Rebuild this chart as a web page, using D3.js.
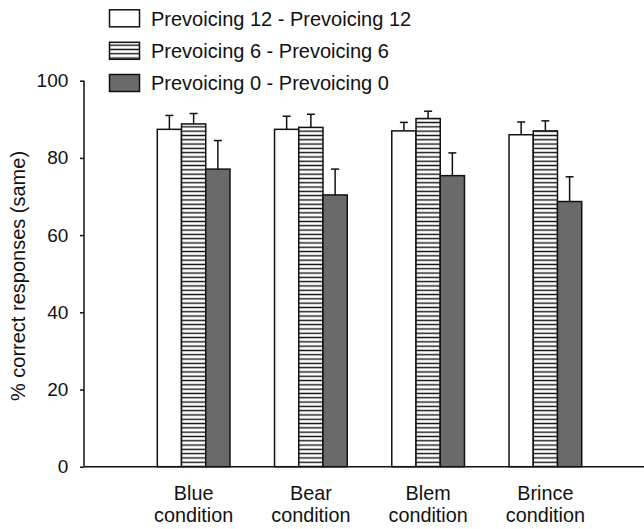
<!DOCTYPE html>
<html>
<head>
<meta charset="utf-8">
<script src="https://cdn.jsdelivr.net/npm/d3@7"></script>
<style>
  html, body { margin: 0; padding: 0; background: #fff; }
  svg { display: block; font-family: "Liberation Sans", Arial, sans-serif; }
</style>
</head>
<body>
<svg id="chart" width="644" height="529"></svg>
<script>
const categories = ["Blue condition", "Bear condition", "Blem condition", "Brince condition"];
const seriesNames = ["Prevoicing 12 - Prevoicing 12", "Prevoicing 6 - Prevoicing 6", "Prevoicing 0 - Prevoicing 0"];
const means12 = [87.4, 87.4, 87.0, 86.0];
const means6  = [88.8, 87.9, 90.2, 87.0];
const means0  = [77.1, 70.4, 75.4, 68.7];
const errs12 = [3.6, 3.4, 2.2, 3.3];
const errs6  = [2.7, 3.4, 1.9, 2.6];
const errs0  = [7.4, 6.7, 5.9, 6.4];
const yTicks = [0, 20, 40, 60, 80, 100];

const meansList = [means12, means6, means0];
const errsList = [errs12, errs6, errs0];

const svg = d3.select("#chart");

// pattern for hatched bars
const defs = svg.append("defs");
const pat = defs.append("pattern")
  .attr("id", "hatch")
  .attr("patternUnits", "userSpaceOnUse")
  .attr("width", 8).attr("height", 4.3);
pat.append("rect").attr("width", 8).attr("height", 4.3).attr("fill", "#fff");
pat.append("line").attr("x1", 0).attr("x2", 8).attr("y1", 2.15).attr("y2", 2.15)
  .attr("stroke", "#111").attr("stroke-width", 1.4);

const fills = ["#ffffff", "url(#hatch)", "#6a6a6a"];

const y = d3.scaleLinear().domain([0, 100]).range([466.7, 80.7]);
const x0 = d3.scaleBand().domain(categories).range([135, 604]).paddingInner(0.38).paddingOuter(0.19);
const x1 = d3.scaleBand().domain(seriesNames).range([0, x0.bandwidth()]);

// Axes
const yAxis = d3.axisLeft(y).tickValues(yTicks).tickSize(4).tickPadding(11.7);
const gy = svg.append("g").attr("transform", "translate(84,0)").call(yAxis);
gy.select(".domain").attr("stroke", "#111").attr("stroke-width", 1.5).attr("d", "M0," + y(100) + "V" + y(0));
gy.selectAll(".tick line").attr("stroke", "#111").attr("stroke-width", 1.5);
gy.selectAll(".tick text").attr("font-size", 19).attr("fill", "#111")
  .attr("font-family", "Liberation Sans, Arial, sans-serif");

// bottom axis line
svg.append("line").attr("x1", 84).attr("x2", 644).attr("y1", y(0)).attr("y2", y(0))
  .attr("stroke", "#111").attr("stroke-width", 1.5);

// Bars
seriesNames.forEach((s, si) => {
  const g = svg.append("g");
  categories.forEach((c, ci) => {
    const v = meansList[si][ci];
    const e = errsList[si][ci];
    const bx = x0(c) + x1(s);
    const bw = x1.bandwidth();
    const cx = bx + bw / 2;
    // error bar (upper only)
    g.append("line").attr("x1", cx).attr("x2", cx).attr("y1", y(v)).attr("y2", y(v + e))
      .attr("stroke", "#111").attr("stroke-width", 1.5);
    g.append("line").attr("x1", cx - 4).attr("x2", cx + 4).attr("y1", y(v + e)).attr("y2", y(v + e))
      .attr("stroke", "#111").attr("stroke-width", 1.5);
    g.append("rect").attr("x", bx).attr("y", y(v)).attr("width", bw).attr("height", y(0) - y(v))
      .attr("fill", fills[si]).attr("stroke", "#111").attr("stroke-width", 1.5);
  });
});

// Category labels
categories.forEach(c => {
  const parts = c.split(" ");
  const t = svg.append("text").attr("text-anchor", "middle").attr("font-size", 19.8).attr("fill", "#111");
  parts.forEach((p, i) => {
    t.append("tspan").attr("x", x0(c) + x0.bandwidth() / 2).attr("y", 500 + i * 21.5).text(p);
  });
});

// Y-axis title
svg.append("text")
  .attr("transform", "translate(25,276) rotate(-90)")
  .attr("text-anchor", "middle").attr("font-size", 20).attr("fill", "#111")
  .text("% correct responses (same)");

// Legend
const legendY = [18.3, 50.8, 83.0];
seriesNames.forEach((s, i) => {
  svg.append("rect").attr("x", 109.5).attr("y", legendY[i] - 8.5).attr("width", 30).attr("height", 17)
    .attr("fill", fills[i]).attr("stroke", "#111").attr("stroke-width", 1.5);
  svg.append("text").attr("x", 151).attr("y", legendY[i] + 7.2)
    .attr("font-size", 20).attr("fill", "#111").text(s);
});
</script>
</body>
</html>
